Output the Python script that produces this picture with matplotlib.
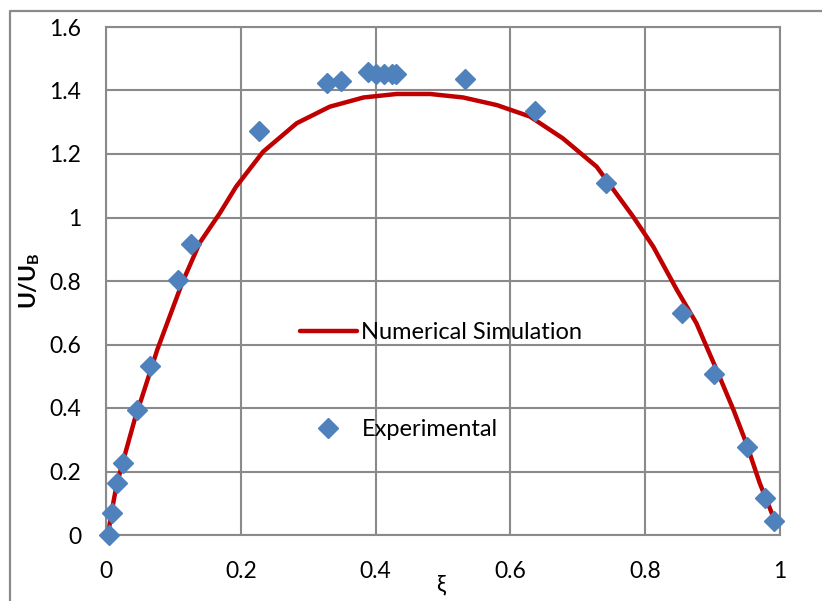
import numpy as np
import matplotlib
matplotlib.use("Agg")
import matplotlib.pyplot as plt
from matplotlib.lines import Line2D

plt.rcParams['font.family'] = ['Lato', 'DejaVu Sans']
plt.rcParams['mathtext.fontset'] = 'custom'
plt.rcParams['mathtext.rm'] = 'Lato'
plt.rcParams['mathtext.bf'] = 'Lato:bold'

# experimental points
xi_exp = [0.004, 0.009, 0.016, 0.025, 0.046, 0.065, 0.107, 0.126, 0.227, 0.328,
          0.349, 0.389, 0.401, 0.413, 0.424, 0.431, 0.533, 0.636, 0.742, 0.855,
          0.902, 0.951, 0.978, 0.991]
u_exp = [0.0, 0.069, 0.164, 0.227, 0.394, 0.532, 0.803, 0.917, 1.272, 1.424,
         1.430, 1.458, 1.452, 1.452, 1.452, 1.452, 1.436, 1.335, 1.109, 0.699,
         0.507, 0.277, 0.117, 0.044]

# numerical simulation curve
xi_num = [0.003, 0.008, 0.016, 0.025, 0.046, 0.052, 0.076, 0.113, 0.139, 0.169,
          0.193, 0.233, 0.283, 0.332, 0.382, 0.431, 0.481, 0.530, 0.580, 0.629,
          0.678, 0.728, 0.782, 0.812, 0.847, 0.876, 0.906, 0.931, 0.950, 0.970,
          0.988, 0.995]
u_num = [0.0, 0.07, 0.16, 0.23, 0.39, 0.425, 0.583, 0.794, 0.92, 1.014,
         1.097, 1.207, 1.297, 1.349, 1.378, 1.389, 1.389, 1.378, 1.354, 1.318,
         1.249, 1.160, 1.003, 0.908, 0.772, 0.667, 0.520, 0.394, 0.289, 0.163,
         0.068, 0.026]

grey = '#8a8a8a'
W, H = 822, 601
fig = plt.figure(figsize=(W/100, H/100), dpi=100)
ax = fig.add_axes([106/W, 1-535/H, (780-106)/W, (535-27)/H])

# outer chart frame (partly cut off)
fig.add_artist(Line2D([10/W, 10/W, 1.0], [0.0, 1-11/H, 1-11/H],
                      transform=fig.transFigure, color=grey, lw=1.6))

ax.plot(xi_num, u_num, color='#C00000', lw=3.2, label='Numerical Simulation',
        zorder=3, solid_joinstyle='round', solid_capstyle='round')
ax.plot(xi_exp, u_exp, ls='none', marker='D', ms=10, color='#4F81BD',
        mec='#4F81BD', label='Experimental', zorder=4, clip_on=False)

ax.set_xlim(0, 1)
ax.set_ylim(0, 1.6)
ax.set_xticks(np.arange(0, 1.01, 0.2))
ax.set_xticklabels(['0', '0.2', '0.4', '0.6', '0.8', '1'])
ax.set_yticks(np.arange(0, 1.61, 0.2))
ax.set_yticklabels(['0', '0.2', '0.4', '0.6', '0.8', '1', '1.2', '1.4', '1.6'])
ax.tick_params(length=0, labelsize=16.5)
ax.tick_params(axis='y', pad=18)
ax.tick_params(axis='x', pad=19)
ax.grid(True, color=grey, lw=1.5)
ax.set_axisbelow(True)
for s in ax.spines.values():
    s.set_color(grey)
    s.set_linewidth(1.5)

ax.set_xlabel('ξ', fontsize=16.5)
ax.xaxis.set_label_coords(0.496, -0.098)
ax.xaxis.label.set_va('center')
ax.set_ylabel(r'U/U$_\mathbf{B}$', fontsize=16.5, fontweight='bold')
ax.yaxis.set_label_coords(-0.113, 0.5)
ax.yaxis.label.set_va('center')

ax.legend(loc='center left', bbox_to_anchor=((300-106)/674, (535-381)/508),
          frameon=False, fontsize=17, handlelength=2.4, handletextpad=0.2,
          labelspacing=3.2, borderpad=0, borderaxespad=0)

fig.savefig('out.png', dpi=100)
